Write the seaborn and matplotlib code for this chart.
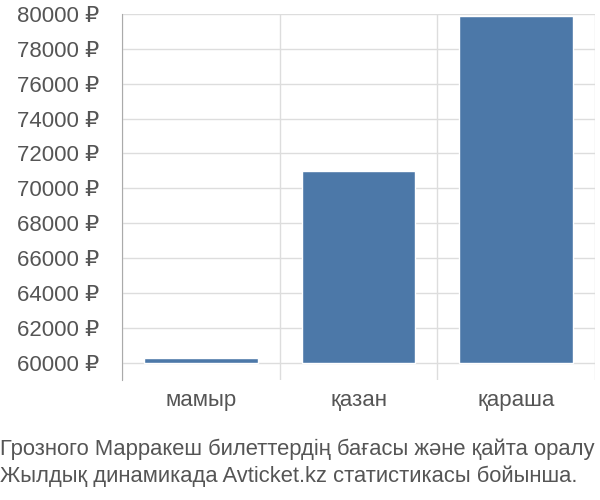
import numpy as np
import pandas as pd
import seaborn as sns
import matplotlib.pyplot as plt
from matplotlib.ticker import FixedLocator, FuncFormatter

# --- dados ---
months = ['мамыр', 'қазан', 'қараша']
prices = [60270, 70980, 79890]
base = 60000
y_ticks = list(range(60000, 80001, 2000))
caption = ['Грозного Марракеш билеттердің бағасы және қайта оралу',
           'Жылдық динамикада Avticket.kz статистикасы бойынша.']

sns.set_style('white')
plt.rcParams['font.family'] = ['Liberation Sans', 'DejaVu Sans']

df = pd.DataFrame({'month': months, 'height': np.array(prices) - base})

fig = plt.figure(figsize=(6, 5), dpi=100)
ax = fig.add_axes([0.203, 0.24, 0.789, 0.732])

# barras começam em 60000, não no fundo do eixo
sns.barplot(data=df, x='month', y='height', bottom=base, color='#4c78a8',
            saturation=1, width=0.72, errorbar=None, ax=ax)

ax.set_ylim(59000, 80000)
ax.set_xlim(-0.5, 2.5)
ax.yaxis.set_major_locator(FixedLocator(y_ticks))
ax.yaxis.set_major_formatter(FuncFormatter(lambda v, p: f'{int(v)} ₽'))
ax.xaxis.set_minor_locator(FixedLocator([-0.5, 0.5, 1.5, 2.5]))

ax.grid(axis='y', which='major', color='#dddddd', linewidth=1)
ax.grid(axis='x', which='minor', color='#dddddd', linewidth=1)
ax.set_axisbelow(True)

ax.tick_params(axis='y', length=14, color='#dddddd', width=1, labelsize=16,
               labelcolor='#555555', pad=2)
ax.tick_params(axis='x', which='major', length=0, labelsize=16,
               labelcolor='#555555', pad=7)
ax.tick_params(axis='x', which='minor', length=0)

for s in ['top', 'right', 'bottom']:
    ax.spines[s].set_visible(False)
ax.spines['left'].set_color('#aaaaaa')
ax.set_xlabel('')
ax.set_ylabel('')

fig.text(0.0, 0.09, caption[0], fontsize=15.8, color='#555555', va='baseline')
fig.text(0.0, 0.036, caption[1], fontsize=15.8, color='#555555', va='baseline')

plt.savefig('out.png')
plt.close()
